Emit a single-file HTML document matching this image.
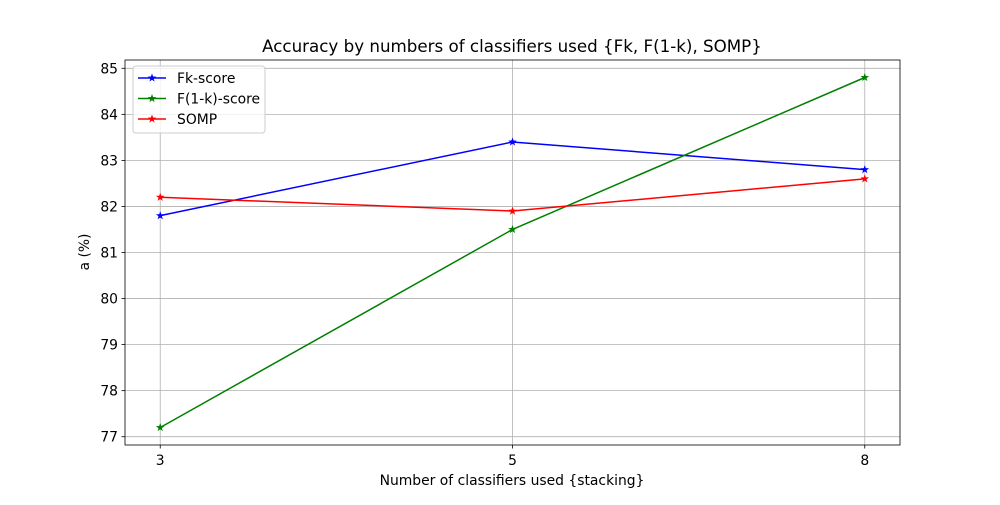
<!DOCTYPE html>
<html><head><meta charset="utf-8"><style>
body{margin:0;background:#fff;font-family:"Liberation Sans","DejaVu Sans",sans-serif;}
svg text{font-family:"DejaVu Sans","Liberation Sans",sans-serif;}
</style></head><body>
<svg id="chart" width="1000" height="500"></svg>
<script>
const categories=["3","5","8"];
const fkValues=[81.8,83.4,82.8];
const f1kValues=[77.2,81.5,84.8];
const sompValues=[82.2,81.9,82.6];
const yTicks=[77,78,79,80,81,82,83,84,85];
const seriesNames=["Fk-score","F(1-k)-score","SOMP"];
const NS="http://www.w3.org/2000/svg";
const svg=document.getElementById('chart');
const L=125,R=900,T=60,B=445;
const all=fkValues.concat(f1kValues,sompValues);
const mn=Math.min(...all),mx=Math.max(...all),pad=(mx-mn)*0.05;
const y0=mn-pad,y1=mx+pad;
const n=categories.length;
const xs=i=>L+(i+0.1)/(n-1+0.2)*(R-L);
const ys=v=>B-(v-y0)/(y1-y0)*(B-T);
function el(tag,attrs,parent){const e=document.createElementNS(NS,tag);for(const k in attrs)e.setAttribute(k,attrs[k]);(parent||svg).appendChild(e);return e;}
yTicks.forEach(t=>{
 const g=el('line',{x1:L,x2:R,y1:ys(t),y2:ys(t),stroke:'#b0b0b0','stroke-width':0.8});
 
 
 el('line',{x1:L-3.5,x2:L,y1:ys(t),y2:ys(t),stroke:'#000','stroke-width':0.8});
 const tx=el('text',{x:L-7,y:ys(t)+5,'text-anchor':'end','font-size':13.9});
 tx.textContent=t;
 
 
});
categories.forEach((c,i)=>{
 const g=el('line',{x1:xs(i),x2:xs(i),y1:T,y2:B,stroke:'#b0b0b0','stroke-width':0.8});
 
 
 el('line',{x1:xs(i),x2:xs(i),y1:B,y2:B+3.5,stroke:'#000','stroke-width':0.8});
 const tx=el('text',{x:xs(i),y:B+20,'text-anchor':'middle','font-size':13.9});
 tx.textContent=c;
 
 
});
const frame=el('rect',{x:L,y:T,width:R-L,height:B-T,fill:'none',stroke:'#000','stroke-width':0.8});


function star(cx,cy,r){let p=[];for(let k=0;k<10;k++){const a=-Math.PI/2+k*Math.PI/5;const rr=k%2?r*0.4:r;p.push((cx+rr*Math.cos(a)).toFixed(1)+','+(cy+rr*Math.sin(a)).toFixed(1));}return p.join(' ');}
const series=[[fkValues,'#0000ff'],[f1kValues,'#008000'],[sompValues,'#ff0000']];
series.forEach(([vals,col],si)=>{
 const pl=el('polyline',{points:vals.map((v,i)=>xs(i)+','+ys(v)).join(' '),fill:'none',stroke:col,'stroke-width':1.5});
 
 
 vals.forEach((v,i)=>{
  const m=el('polygon',{points:star(xs(i),ys(v),4.5),fill:col});
  
  
 });
});
const lg=el('rect',{x:133,y:66,width:132,height:67,fill:'#fff','fill-opacity':0.8,stroke:'#ccc',rx:3});


series.forEach(([vals,col],si)=>{
 const yy=78+si*20.5;
 el('line',{x1:138,x2:166,y1:yy,y2:yy,stroke:col,'stroke-width':1.5});
 el('polygon',{points:star(152,yy,4.5),fill:col});
 const tx=el('text',{x:177,y:yy+5,'font-size':13.9});
 tx.textContent=seriesNames[si];
 
 
});
const title=el('text',{x:512,y:52,'text-anchor':'middle','font-size':16.7});
title.textContent='Accuracy by numbers of classifiers used {Fk, F(1-k), SOMP}';


const xt=el('text',{x:512,y:485,'text-anchor':'middle','font-size':13.9});
xt.textContent='Number of classifiers used {stacking}';


const yt=el('text',{x:0,y:0,'text-anchor':'middle','font-size':13.9,transform:'translate(89,252) rotate(-90)'});
yt.textContent='a (%)';


</script>
</body></html>
